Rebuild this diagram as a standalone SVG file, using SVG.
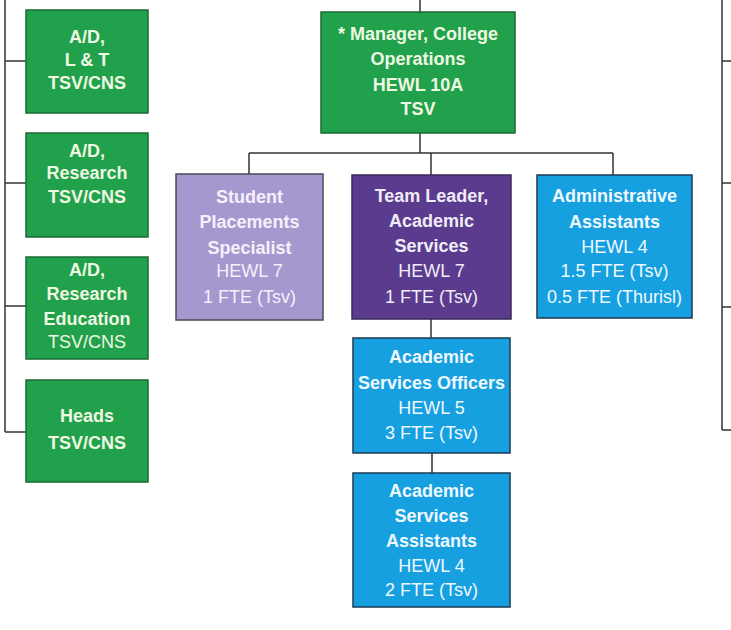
<svg xmlns="http://www.w3.org/2000/svg" width="731" height="630" viewBox="0 0 731 630">
<style>
.g{fill:#21a14b;stroke:#1b6a35;stroke-width:1.5}
.lv{fill:#a598cf;stroke:#4a4a5a;stroke-width:1.5}
.pu{fill:#5a3b8d;stroke:#3a2a55;stroke-width:1.5}
.bl{fill:#17a0df;stroke:#1f3a55;stroke-width:1.5}
text{font-family:"Liberation Sans",Arial,sans-serif;text-anchor:middle;font-size:18px}
.b{font-weight:bold}
.tg{fill:#eef8e2}
.tl{fill:#f4f1fb}
.tp{fill:#f1ecf9}
.tb{fill:#eef8ff}
.c{fill:none;stroke:#333;stroke-width:1.5}
</style>
<rect width="731" height="630" fill="#ffffff"/>
<g id="connectors">
<path class="c" d="M5,0 V432 M5,61 H26 M5,183 H26 M5,306 H26 M5,432 H26"/>
<path class="c" d="M722,0 V430 M722,61 H731 M722,183 H731 M722,307 H731 M722,430 H731"/>
<path class="c" d="M420,0 V12 M420,133 V153 M249,153 H613 M249,153 V175 M431,153 V175 M613,153 V175"/>
<path class="c" d="M431,319 V338 M432,453 V473"/>
</g>
<g id="ad-lt">
<rect class="g" x="26" y="10" width="122" height="103"/>
<text class="b tg" font-size="16" x="87" y="43">A/D,</text>
<text class="b tg" font-size="16" x="87" y="66">L &amp; T</text>
<text class="b tg" font-size="16" x="87" y="89">TSV/CNS</text>
</g>
<g id="ad-research">
<rect class="g" x="26" y="133" width="122" height="104"/>
<text class="b tg" font-size="16" x="87" y="157">A/D,</text>
<text class="b tg" font-size="16" x="87" y="179">Research</text>
<text class="b tg" font-size="16" x="87" y="203">TSV/CNS</text>
</g>
<g id="ad-research-education">
<rect class="g" x="26" y="257" width="122" height="102"/>
<text class="b tg" font-size="16" x="87" y="276">A/D,</text>
<text class="b tg" font-size="16" x="87" y="300">Research</text>
<text class="b tg" font-size="16" x="87" y="325">Education</text>
<text class="tg" font-size="16" x="87" y="348">TSV/CNS</text>
</g>
<g id="heads">
<rect class="g" x="26" y="380" width="122" height="102"/>
<text class="b tg" font-size="19.5" x="87" y="422">Heads</text>
<text class="b tg" font-size="19.5" x="87" y="449">TSV/CNS</text>
</g>
<g id="manager">
<rect class="g" x="321" y="12" width="194" height="121"/>
<text class="b tg" font-size="19" x="418" y="40">* Manager, College</text>
<text class="b tg" font-size="19" x="418" y="65">Operations</text>
<text class="b tg" font-size="19" x="418" y="91">HEWL 10A</text>
<text class="b tg" font-size="19" x="418" y="115">TSV</text>
</g>
<g id="student-placements">
<rect class="lv" x="176" y="174" width="147" height="146"/>
<text class="b tl" x="249.5" y="203">Student</text>
<text class="b tl" x="249.5" y="228">Placements</text>
<text class="b tl" x="249.5" y="254">Specialist</text>
<text class="tl" x="249.5" y="277">HEWL 7</text>
<text class="tl" x="249.5" y="303">1 FTE (Tsv)</text>
</g>
<g id="team-leader">
<rect class="pu" x="352" y="175" width="159" height="144"/>
<text class="b tp" x="431.5" y="202">Team Leader,</text>
<text class="b tp" x="431.5" y="227">Academic</text>
<text class="b tp" x="431.5" y="252">Services</text>
<text class="tp" x="431.5" y="277">HEWL 7</text>
<text class="tp" x="431.5" y="303">1 FTE (Tsv)</text>
</g>
<g id="admin-assistants">
<rect class="bl" x="537" y="175" width="155" height="143"/>
<text class="b tb" x="614.5" y="202">Administrative</text>
<text class="b tb" x="614.5" y="228">Assistants</text>
<text class="tb" x="614.5" y="253">HEWL 4</text>
<text class="tb" x="614.5" y="277">1.5 FTE (Tsv)</text>
<text class="tb" x="614.5" y="303">0.5 FTE (Thurisl)</text>
</g>
<g id="academic-services-officers">
<rect class="bl" x="353" y="338" width="157" height="115"/>
<text class="b tb" x="431.5" y="363">Academic</text>
<text class="b tb" x="431.5" y="389">Services Officers</text>
<text class="tb" x="431.5" y="414">HEWL 5</text>
<text class="tb" x="431.5" y="439">3 FTE (Tsv)</text>
</g>
<g id="academic-services-assistants">
<rect class="bl" x="353" y="473" width="157" height="134"/>
<text class="b tb" x="431.5" y="497">Academic</text>
<text class="b tb" x="431.5" y="522">Services</text>
<text class="b tb" x="431.5" y="547">Assistants</text>
<text class="tb" x="431.5" y="572">HEWL 4</text>
<text class="tb" x="431.5" y="596">2 FTE (Tsv)</text>
</g>
</svg>
